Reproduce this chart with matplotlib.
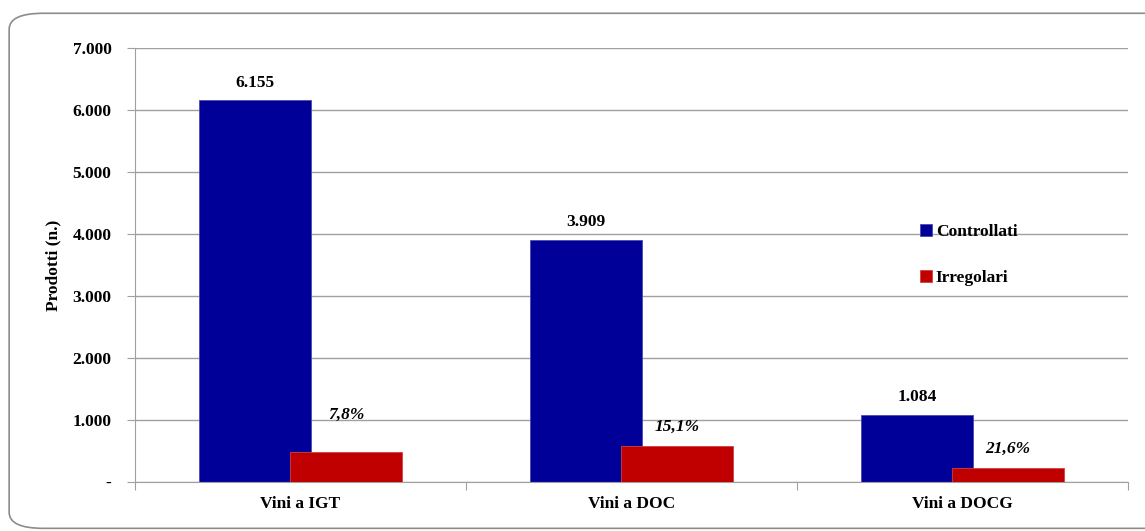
import matplotlib.pyplot as plt
import numpy as np
from matplotlib.patches import FancyBboxPatch
from matplotlib.ticker import FixedLocator, FuncFormatter

categories = ['Vini a IGT', 'Vini a DOC', 'Vini a DOCG']
controllati = [6155, 3909, 1084]
irregolari = [480, 590, 234]
perc_labels = ['7,8%', '15,1%', '21,6%']

plt.rcParams['font.family'] = ['Liberation Serif', 'DejaVu Serif']
fs = 12.5

fig = plt.figure(figsize=(11.45, 5.31), dpi=100)
fig.patches.append(FancyBboxPatch((0.008, 0.005), 1.2, 0.97,
                                  boxstyle='round,pad=0,rounding_size=0.03',
                                  transform=fig.transFigure, fill=False,
                                  edgecolor='#8c8c8c', linewidth=1.2))
ax = fig.add_axes([0.118, 0.092, 0.867, 0.818])

x = np.arange(len(categories))
w = 0.34
off = 0.1375
ax.bar(x - off, controllati, w, color='#000099', edgecolor='#4a4ab0',
       linewidth=0.6, label='Controllati', zorder=2)
ax.bar(x + off, irregolari, w, color='#c00000', edgecolor='#d04040',
       linewidth=0.6, label='Irregolari', zorder=3)

for i, v in enumerate(controllati):
    ax.annotate(f'{v:,}'.replace(',', '.'), (x[i] - off, v), xytext=(0, 7),
                textcoords='offset points', ha='center', va='bottom',
                fontsize=fs, fontweight='bold')
lab_off = [21, 8, 8]
for i, v in enumerate(irregolari):
    ax.annotate(perc_labels[i], (x[i] + off, v), xytext=(0, lab_off[i]),
                textcoords='offset points', ha='center', va='bottom',
                fontsize=fs, fontweight='bold', style='italic')

ax.set_xlim(-0.5, 2.5)
ax.set_ylim(0, 7000)
ax.yaxis.set_major_locator(FixedLocator(np.arange(0, 7001, 1000)))
ax.yaxis.set_major_formatter(FuncFormatter(
    lambda v, p: '-' if v == 0 else f'{int(v):,}'.replace(',', '.')))
ax.grid(axis='y', color='#a0a0a0', linewidth=1, zorder=0)
ax.set_axisbelow(True)

ax.set_xticks([-0.5, 0.5, 1.5, 2.5])
ax.set_xticklabels([])
ax.set_xticks(x, minor=True)
ax.set_xticklabels(categories, minor=True, fontsize=fs, fontweight='bold')
ax.tick_params(axis='x', which='minor', length=0, pad=10)
ax.tick_params(axis='x', which='major', length=6, color='#a0a0a0')
ax.tick_params(axis='y', length=6, color='#a0a0a0', pad=11)
for lab in ax.get_yticklabels():
    lab.set_fontsize(fs)
    lab.set_fontweight('bold')

for s in ['top', 'right']:
    ax.spines[s].set_visible(False)
for s in ['left', 'bottom']:
    ax.spines[s].set_color('#a0a0a0')

ax.set_ylabel('Prodotti (n.)', fontsize=fs, fontweight='bold', labelpad=8)

ax.legend(loc='upper left', bbox_to_anchor=(0.775, 0.63), frameon=False,
          prop={'weight': 'bold', 'size': fs}, handlelength=0.7,
          handleheight=0.7, handletextpad=0.2, labelspacing=1.7)

fig.savefig('out.png', dpi=100)
